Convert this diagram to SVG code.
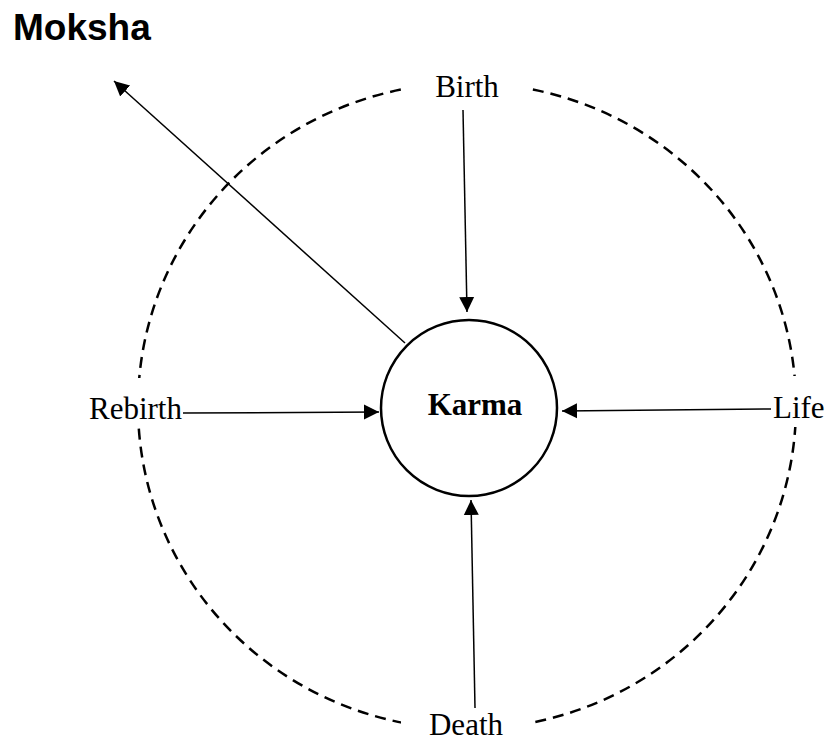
<svg xmlns="http://www.w3.org/2000/svg" width="828" height="742" viewBox="0 0 828 742">
  <style>
    .label { font-family: "Liberation Serif", "Times New Roman", serif; font-size: 31px; fill: #000; }
    .title { font-family: "Liberation Sans", Arial, sans-serif; font-size: 37px; font-weight: bold; fill: #000; }
    .cycle { fill: none; stroke: #000; stroke-width: 2.5; stroke-dasharray: 11 7; }
    .hub { fill: #fff; stroke: #000; stroke-width: 2.5; }
    .edge { fill: none; stroke: #000; stroke-width: 1.5; marker-end: url(#head); }
    .mask { fill: #fff; }
  </style>
  <defs>
    <marker id="head" markerUnits="userSpaceOnUse" markerWidth="16" markerHeight="16" viewBox="0 0 16 16" refX="15" refY="8" orient="auto">
      <path d="M0,0.5 L15,8 L0,15.5 Z" fill="#000"/>
    </marker>
  </defs>

  <rect width="828" height="742" fill="#fff"/>

  <!-- cycle of existence -->
  <ellipse class="cycle" cx="467" cy="406" rx="329" ry="323"/>

  <!-- connectors -->
  <g id="connectors">
    <line class="edge" x1="405" y1="343" x2="114" y2="81"/>
    <line class="edge" x1="463" y1="110" x2="467" y2="312"/>
    <line class="edge" x1="183" y1="413" x2="379" y2="412"/>
    <line class="edge" x1="771" y1="409" x2="562" y2="411"/>
    <line class="edge" x1="475" y1="708" x2="471" y2="500"/>
  </g>

  <g id="moksha">
    <text class="title" x="13" y="40">Moksha</text>
  </g>

  <g id="karma">
    <circle class="hub" cx="469" cy="408" r="88"/>
    <text class="label" x="475" y="415" text-anchor="middle" font-weight="bold">Karma</text>
  </g>

  <g id="birth">
    <rect class="mask" x="404" y="70" width="128" height="34"/>
    <text class="label" x="467" y="97" text-anchor="middle">Birth</text>
  </g>

  <g id="rebirth">
    <rect class="mask" x="88" y="378" width="95" height="50"/>
    <text class="label" x="89" y="419">Rebirth</text>
  </g>

  <g id="life">
    <rect class="mask" x="771" y="376" width="57" height="51"/>
    <text class="label" x="773" y="418">Life</text>
  </g>

  <g id="death">
    <rect class="mask" x="401" y="711" width="128" height="31"/>
    <text class="label" x="466" y="735" text-anchor="middle">Death</text>
  </g>
</svg>
